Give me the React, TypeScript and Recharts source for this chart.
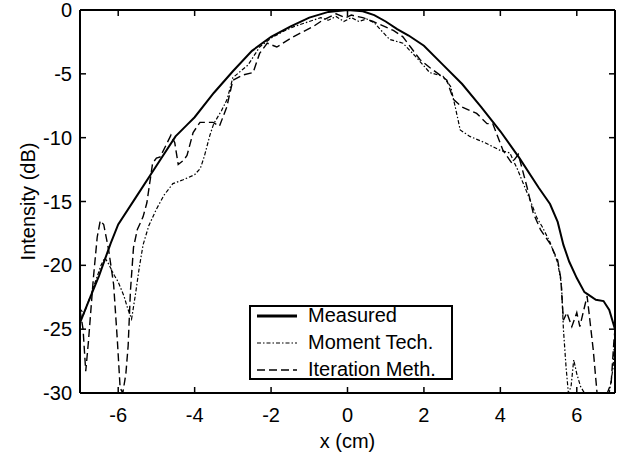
import React from 'react';
import { LineChart, Line, XAxis, YAxis, Legend } from 'recharts';

const FONT = '"Liberation Sans", Arial, Helvetica, sans-serif';

// x positions (cm) and intensities (dB)
const measuredX = [-7, -6.8, -6.5, -6.2, -6, -5.5, -5, -4.5, -4.2, -4, -3.5, -3, -2.5, -2, -1.5, -1, -0.5, 0, 0.4, 0.7, 1, 1.3, 1.6, 2, 2.5, 3, 3.5, 4, 4.5, 5, 5.3, 5.5, 5.65, 5.8, 6, 6.2, 6.3, 6.5, 6.7, 6.85, 7];
const measuredY = [-24.5, -23, -20.8, -18.3, -16.8, -14.5, -12.2, -9.9, -9.0, -8.4, -6.5, -4.8, -3.2, -2.1, -1.3, -0.6, -0.15, 0, -0.1, -0.4, -0.9, -1.5, -2.0, -2.8, -4.3, -5.8, -7.6, -9.5, -11.6, -13.9, -15.2, -16.6, -18.4, -19.7, -21.0, -22.1, -22.3, -22.7, -22.8, -23.5, -25];

const momentX = [-7, -6.9, -6.75, -6.6, -6.45, -6.35, -6.25, -6.1, -6, -5.85, -5.75, -5.65, -5.55, -5.45, -5.35, -5.2, -5, -4.8, -4.57, -4.3, -4, -3.85, -3.75, -3.6, -3.5, -3.3, -3.15, -3, -2.8, -2.6, -2.3, -2, -1.7, -1.4, -1, -0.7, -0.5, -0.3, -0.1, 0.1, 0.3, 0.5, 0.7, 0.85, 1.1, 1.45, 1.8, 2.15, 2.5, 2.7, 2.82, 2.95, 3.2, 3.6, 4, 4.25, 4.45, 4.78, 4.96, 5.1, 5.3, 5.5, 5.6, 5.65, 5.72, 5.78, 5.85, 5.92, 6, 6.1, 6.2, 6.85, 6.95, 7];
const momentY = [-23.4, -23.8, -22.6, -21.3, -20.0, -19.4, -19.9, -20.8, -21.3, -22.4, -23.4, -24.2, -22.3, -20.2, -18.4, -16.9, -15.6, -14.5, -13.6, -13.3, -12.9, -12.4, -11.5, -9.8, -8.9, -7.9, -7.0, -5.3, -4.8, -4.3, -2.9, -2.2, -1.7, -1.3, -0.9, -0.6, -0.8, -0.5, -0.9, -0.6, -0.9, -0.7, -1.0, -1.5, -2.3, -2.6, -3.7, -4.9, -5.2, -6.0, -7.6, -9.4, -9.9, -10.4, -11.0, -11.2, -12.5, -14.9, -16.3, -17.0, -18.2, -19.8, -21.5, -25.0, -28, -30, -29.5, -27.4, -28.5, -29.5, -30, -30, -28, -25];

const iterX = [-7, -6.92, -6.85, -6.78, -6.65, -6.55, -6.47, -6.38, -6.25, -6.12, -6.02, -5.95, -5.88, -5.8, -5.74, -5.68, -5.6, -5.5, -5.35, -5.25, -5.1, -5, -4.9, -4.75, -4.62, -4.52, -4.43, -4.3, -4.2, -4.04, -3.86, -3.52, -3.35, -3.16, -3, -2.75, -2.47, -2.3, -2.1, -1.85, -1.42, -0.9, -0.65, -0.3, -0.05, 0.1, 0.4, 0.67, 1.2, 1.45, 1.65, 1.9, 2.15, 2.6, 2.77, 3, 3.38, 3.65, 3.8, 4.07, 4.3, 4.47, 4.7, 4.86, 5.05, 5.3, 5.5, 5.58, 5.65, 5.74, 5.87, 6, 6.08, 6.27, 6.35, 6.43, 6.53, 6.8, 6.9, 6.97, 7];
const iterY = [-23.5, -25, -28.3, -26, -21, -17.8, -16.5, -16.8, -18.8, -21.5, -26, -29.6, -30, -28.5, -26.3, -22, -18.6, -17.2, -16.2, -15.1, -12.0, -11.6, -11.5, -10.6, -9.8, -10.4, -12.1, -11.8, -11.4, -9.6, -8.8, -8.8, -9.1, -7.6, -5.5, -5.1, -4.9, -3.4, -2.6, -2.9, -2.1, -1.3, -0.8, -0.3, -0.6, -0.4, -0.6, -0.9, -1.6, -2.1, -2.9, -3.9, -4.5, -5.5, -7.0, -7.6, -8.1, -8.9, -8.9, -11.0, -12.0, -11.3, -13.9, -15.9, -17.2, -18.3, -19.6, -21, -24.3, -23.7, -24.8, -23.7, -24.8, -22.4, -24.5, -26.6, -30, -30, -29.2, -26, -25];

const xTicks = [-6, -4, -2, 0, 2, 4, 6];
const yTicks = [-30, -25, -20, -15, -10, -5, 0];

const toPoints = (xs: number[], ys: number[]) => xs.map((x, i) => ({ x, y: ys[i] }));
const measured = toPoints(measuredX, measuredY);
const moment = toPoints(momentX, momentY);
const iteration = toPoints(iterX, iterY);

const series = [
  { name: 'Measured', data: measured, width: 2, dash: undefined, legendWidth: 3 },
  { name: 'Moment Tech.', data: moment, width: 1.2, dash: '4 2 1.5 2', legendWidth: 1.2 },
  { name: 'Iteration Meth.', data: iteration, width: 1.4, dash: '8 4', legendWidth: 1.5 },
];

const TICK = 6;

const BottomTick = (props: any) => {
  const { x, y, payload } = props;
  const axisY = y - 15;
  return (
    <g>
      <line x1={x} x2={x} y1={axisY} y2={axisY - TICK} stroke="#000" strokeWidth={1.5} />
      <text x={x} y={y} dy="0.71em" textAnchor="middle" fill="#000" fontSize={20} fontFamily={FONT}>
        {payload.value}
      </text>
    </g>
  );
};

const LeftTick = (props: any) => {
  const { x, y, payload } = props;
  const axisX = x + 8;
  return (
    <g>
      <line x1={axisX} x2={axisX + TICK} y1={y} y2={y} stroke="#000" strokeWidth={1.5} />
      <text x={x} y={y} dy="0.355em" textAnchor="end" fill="#000" fontSize={20} fontFamily={FONT}>
        {payload.value}
      </text>
    </g>
  );
};

const TopTick = (props: any) => {
  const { x, y } = props;
  const axisY = y + 8;
  return <line x1={x} x2={x} y1={axisY} y2={axisY + TICK} stroke="#000" strokeWidth={1.5} />;
};

const RightTick = (props: any) => {
  const { x, y } = props;
  const axisX = x - 8;
  return <line x1={axisX} x2={axisX - TICK} y1={y} y2={y} stroke="#000" strokeWidth={1.5} />;
};

const LegendBox = () => (
  <div
    style={{
      width: 204,
      height: 75,
      boxSizing: 'border-box',
      border: '2px solid #000',
      background: '#fff',
      paddingLeft: 6,
      display: 'flex',
      flexDirection: 'column',
      justifyContent: 'center',
      fontFamily: FONT,
      fontSize: 20,
      color: '#000',
    }}
  >
    {series.map(s => (
      <div key={s.name} style={{ display: 'flex', alignItems: 'center', height: 27, flexShrink: 0 }}>
        <svg width={40} height={8} style={{ display: 'block' }}>
          <line x1={0} y1={4} x2={40} y2={4} stroke="#000" strokeWidth={s.legendWidth} strokeDasharray={s.dash} />
        </svg>
        <span style={{ marginLeft: 11, whiteSpace: 'nowrap' }}>{s.name}</span>
      </div>
    ))}
  </div>
);

export default function App() {
  return (
    <div style={{ position: 'absolute', left: 0, top: 0, background: '#fff' }}>
      <LineChart width={625} height={458} margin={{ top: 0, right: 0, bottom: 0, left: 0 }}>
        <XAxis
          dataKey="x"
          type="number"
          domain={[-7, 7]}
          ticks={xTicks}
          allowDataOverflow
          height={65}
          tickSize={6}
          tickMargin={9}
          tickLine={false}
          axisLine={{ stroke: '#000', strokeWidth: 2 }}
          tick={<BottomTick />}
          interval={0}
          label={{ value: 'x (cm)', position: 'insideBottom', offset: 10, fill: '#000', fontSize: 20, fontFamily: FONT }}
        />
        <XAxis
          xAxisId="top"
          orientation="top"
          dataKey="x"
          type="number"
          domain={[-7, 7]}
          ticks={xTicks}
          allowDataOverflow
          height={10}
          tickSize={6}
          tickMargin={2}
          tickLine={false}
          axisLine={{ stroke: '#000', strokeWidth: 2 }}
          tick={<TopTick />}
          interval={0}
        />
        <YAxis
          type="number"
          domain={[-30, 0]}
          ticks={yTicks}
          allowDataOverflow
          width={80}
          tickSize={6}
          tickMargin={2}
          tickLine={false}
          axisLine={{ stroke: '#000', strokeWidth: 2 }}
          tick={<LeftTick />}
          interval={0}
          label={{
            value: 'Intensity (dB)',
            angle: -90,
            position: 'insideLeft',
            offset: 28,
            fill: '#000',
            fontSize: 20,
            fontFamily: FONT,
            style: { textAnchor: 'middle' },
          }}
        />
        <YAxis
          yAxisId="right"
          orientation="right"
          type="number"
          domain={[-30, 0]}
          ticks={yTicks}
          allowDataOverflow
          width={10}
          tickSize={6}
          tickMargin={2}
          tickLine={false}
          axisLine={{ stroke: '#000', strokeWidth: 2 }}
          tick={<RightTick />}
          interval={0}
        />
        {series.map(s => (
          <Line
            key={s.name}
            data={s.data}
            dataKey="y"
            name={s.name}
            type="linear"
            stroke="#000"
            strokeWidth={s.width}
            strokeDasharray={s.dash}
            dot={false}
            activeDot={false}
            isAnimationActive={false}
          />
        ))}
        <Legend
          layout="vertical"
          align="center"
          verticalAlign="middle"
          wrapperStyle={{ left: 249, top: 305, width: 204 }}
          content={<LegendBox />}
        />
      </LineChart>
    </div>
  );
}
